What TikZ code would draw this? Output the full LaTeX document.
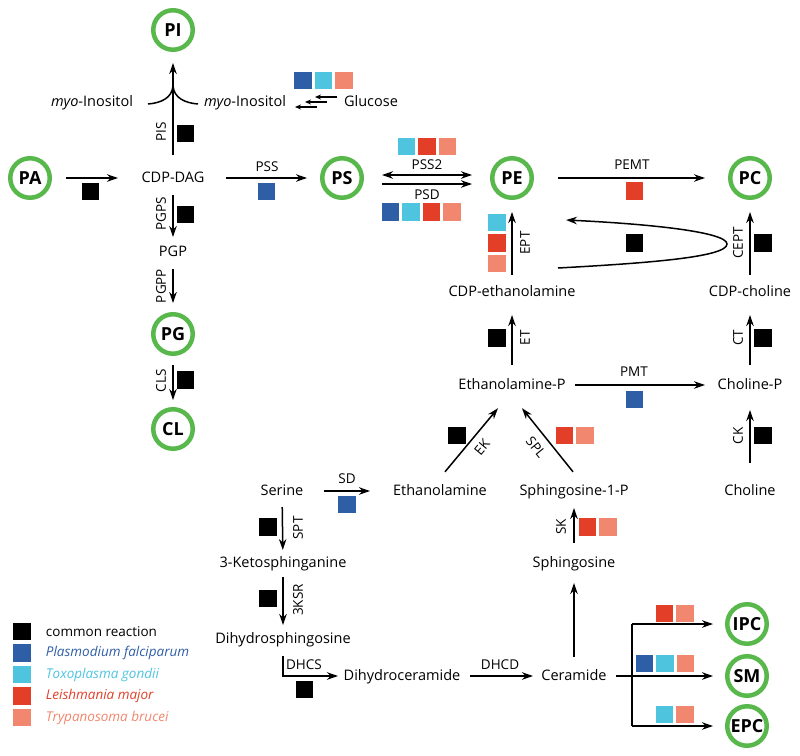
\documentclass[tikz,border=0pt]{standalone}
\usepackage{fontspec}
\setmainfont{Open Sans}
\usetikzlibrary{arrows.meta,positioning}

\definecolor{ring}{RGB}{88,184,76}
\definecolor{pfal}{RGB}{46,94,165}
\definecolor{tgon}{RGB}{78,196,222}
\definecolor{lmaj}{RGB}{226,62,40}
\definecolor{tbru}{RGB}{241,135,110}

\tikzset{
  lipid/.style={circle, draw=ring, line width=4.5pt, minimum size=39.5pt, inner sep=0pt,
    font=\bfseries\fontsize{18}{18}\selectfont},
  met/.style={inner sep=2pt, text height=11pt, text depth=3pt, font=\fontsize{14.5}{16}\selectfont},
  enz/.style={inner sep=1pt, font=\fontsize{13.5}{14}\selectfont},
  legtxt/.style={inner sep=0pt, font=\fontsize{13.5}{15}\selectfont},
  sq/.style={minimum size=17.5pt, inner sep=0pt, outer sep=0pt},
  arr/.style={line width=1.5pt, ->},
  lnk/.style={line width=1.5pt},
  gap/.style 2 args={shorten <=#1pt, shorten >=#2pt},
}

% a row of coloured squares: name, x of first, y, colours
\newcommand{\sqrow}[4]{\foreach \c [count=\i from 0] in {#4} {\node[sq,fill=\c] (#1\i) at (#2+\i*20.5,#3) {};}}

\begin{document}
\begin{tikzpicture}[x=1pt,y=-1pt,>={Stealth[length=11pt,width=7.5pt,inset=3.5pt]}]
\useasboundingbox (0,0) rectangle (800,755);

% lipids
\node[lipid] (PI) at (173,30) {PI};
\node[lipid] (PA) at (30,178) {PA};
\node[lipid] (PS) at (342,178) {PS};
\node[lipid] (PE) at (512,178) {PE};
\node[lipid] (PC) at (750,178) {PC};
\node[lipid] (PG) at (173,334) {PG};
\node[lipid] (CL) at (173,429) {CL};
\node[lipid] (IPC) at (747,624) {IPC};
\node[lipid] (SM) at (747,676) {SM};
\node[lipid] (EPC) at (747,726) {EPC};

% metabolites
\node[met] (myoL) at (92,102) {\textit{myo}-Inositol};
\node[met] (myoR) at (245,102) {\textit{myo}-Inositol};
\node[met] (Glc) at (371,102) {Glucose};
\node[met] (CDPDAG) at (173,178) {CDP-DAG};
\node[met] (PGP) at (173,252) {PGP};
\node[met] (CDPE) at (512,292) {CDP-ethanolamine};
\node[met] (CDPC) at (750,292) {CDP-choline};
\node[met] (EtnP) at (512,385) {Ethanolamine-P};
\node[met] (ChoP) at (750,385) {Choline-P};
\node[met] (Ser) at (282,491) {Serine};
\node[met] (Etn) at (440,491) {Ethanolamine};
\node[met] (S1P) at (574,491) {Sphingosine-1-P};
\node[met] (Cho) at (750,491) {Choline};
\node[met] (KSa) at (283,563) {3-Ketosphinganine};
\node[met] (Sph) at (574,563) {Sphingosine};
\node[met] (DHS) at (283,639) {Dihydrosphingosine};
\node[met] (DHCer) at (402,676) {Dihydroceramide};
\node[met] (Cer) at (574,676) {Ceramide};

% reactions
\coordinate (join) at (173,86);
\draw[lnk] ([xshift=56pt,yshift=-2pt]myoL.center) .. controls (161,103) and (172,98) .. (join);
\draw[lnk] ([xshift=-47pt,yshift=-2pt]myoR.center) .. controls (185,103) and (174,98) .. (join);
\draw[arr,gap={23}{33}] (CDPDAG.center) -- (PI.center);
\foreach \dx/\dy in {0/5,10/0,20/-5}
  \draw[line width=1.3pt,-{Stealth[length=6pt,width=5pt]}] ([xshift={(-34-\dx)*1pt},yshift=\dy pt]Glc.center) -- ++(-22,0);
\draw[arr,gap={36}{55}] (PA.center) -- (CDPDAG.center);
\draw[arr,gap={53}{35}] (CDPDAG.center) -- (PS.center);
\draw[lnk,<->,gap={40}{40}] ([yshift=3pt]PS.center) -- ([yshift=3pt]PE.center);
\draw[arr,gap={40}{40}] ([yshift=-6pt]PS.center) -- ([yshift=-6pt]PE.center);
\draw[arr,gap={46}{45}] (PE.center) -- (PC.center);
\draw[arr,gap={17}{15}] (CDPDAG.center) -- (PGP.center);
\draw[arr,gap={17}{31}] (PGP.center) -- (PG.center);
\draw[arr,gap={31}{29}] (PG.center) -- (CL.center);
\draw[arr,gap={17}{34}] (CDPE.center) -- (PE.center);
\draw[arr,gap={17}{34}] (CDPC.center) -- (PC.center);
\coordinate (hpS) at (558,268);
\coordinate (hpE) at (566,220);
\draw[arr] (hpS) .. controls (650,263) and (727,257) .. (727,244) .. controls (727,232) and (650,224) .. (hpE);
\draw[arr,gap={20}{23}] (EtnP.center) -- (CDPE.center);
\draw[arr,gap={20}{23}] (ChoP.center) -- (CDPC.center);
\draw[arr,gap={63}{45}] (EtnP.center) -- (ChoP.center);
\draw[arr,gap={28}{25}] (Cho.center) -- (ChoP.center);
\draw[arr] ([xshift=5pt,yshift=10pt]Etn.north) -- ([xshift=-14pt,yshift=-14pt]EtnP.south);
\draw[arr] ([xshift=-1pt,yshift=10pt]S1P.north) -- ([xshift=10pt,yshift=-14pt]EtnP.south);
\draw[arr,gap={20}{17}] (Sph.center) -- (S1P.center);
\draw[arr,gap={19}{20}] (Cer.center) -- (Sph.center);
\draw[arr,gap={42}{70}] (Ser.center) -- (Etn.center);
\draw[arr,gap={16}{13}] (Ser.center) -- (KSa.center);
\draw[arr,gap={14}{14}] (KSa.center) -- (DHS.center);
\draw[arr,shorten >=64pt] ([yshift=-8pt]DHS.south) |- (DHCer.center);
\draw[arr,gap={68}{41}] (DHCer.center) -- (Cer.center);
\draw[arr,gap={42}{34}] (Cer.center) -- (SM.center);
\draw[lnk] ([xshift=-115pt]IPC.center) -- ([xshift=-115pt]EPC.center);
\draw[arr,gap={0}{34}] ([xshift=-115pt]IPC.center) -- (IPC.center);
\draw[arr,gap={0}{34}] ([xshift=-115pt]EPC.center) -- (EPC.center);

% enzymes
\node[enz,rotate=90] (ePIS) at (161,132) {PIS};
\node[enz] (ePSS) at (267,167) {PSS};
\node[enz,rotate=90] (ePGPS) at (161,214) {PGPS};
\node[enz,rotate=90] (ePGPP) at (161,286) {PGPP};
\node[enz,rotate=90] (eCLS) at (161,381) {CLS};
\node[enz] (ePSS2) at (427,165) {PSS2};
\node[enz] (ePSD) at (427,195) {PSD};
\node[enz] (ePEMT) at (632,165) {PEMT};
\node[enz,rotate=90] (eEPT) at (525,243) {EPT};
\node[enz,rotate=90] (eCEPT) at (738,243) {CEPT};
\node[enz,rotate=90] (eET) at (525,338) {ET};
\node[enz,rotate=90] (eCT) at (738,338) {CT};
\node[enz] (ePMT) at (634,372) {PMT};
\node[enz,rotate=90] (eCK) at (738,436) {CK};
\node[enz,rotate=50] (eEK) at (482,447) {EK};
\node[enz,rotate=-51] (eSPL) at (536,447) {SPL};
\node[enz,rotate=90] (eSK) at (561,527) {SK};
\node[enz] (eSD) at (347,479) {SD};
\node[enz,rotate=90] (eSPT) at (298,528) {SPT};
\node[enz,rotate=90] (eKSR) at (298,600) {3KSR};
\node[enz] (eDHCS) at (304,665) {DHCS};
\node[enz] (eDHCD) at (500,665) {DHCD};

% organisms per step
\sqrow{sGlc}{303}{80.5}{pfal,tgon,tbru}
\sqrow{sPIS}{185.5}{133.5}{black}
\sqrow{sPA}{90.5}{191.5}{black}
\sqrow{sPSS}{266.5}{191.5}{pfal}
\sqrow{sPGPS}{185.5}{214.5}{black}
\sqrow{sCLS}{185.5}{380}{black}
\sqrow{sPSS2}{406.5}{146.5}{tgon,lmaj,tbru}
\sqrow{sPSD}{390.5}{212}{pfal,tgon,lmaj,tbru}
\sqrow{sPEMT}{634.5}{191}{lmaj}
\foreach \c [count=\i from 0] in {tgon,lmaj,tbru} {\node[sq,fill=\c] (sEPT\i) at (497,222.5+\i*20.5) {};}
\sqrow{sCEPTa}{634.5}{243}{black}
\sqrow{sCEPT}{763}{243}{black}
\sqrow{sET}{497}{338}{black}
\sqrow{sCT}{763}{338}{black}
\sqrow{sPMT}{634.5}{399.5}{pfal}
\sqrow{sCK}{763}{435.5}{black}
\sqrow{sEK}{457}{435.5}{black}
\sqrow{sSPL}{564.5}{435.5}{lmaj,tbru}
\sqrow{sSK}{587.5}{527}{lmaj,tbru}
\sqrow{sSD}{347}{504.5}{pfal}
\sqrow{sSPT}{268}{527}{black}
\sqrow{sKSR}{268}{598.5}{black}
\sqrow{sDHCS}{304.5}{689.5}{black}
\sqrow{sIPC}{664.5}{613.5}{lmaj,tbru}
\sqrow{sSM}{644.5}{663.5}{pfal,tgon,tbru}
\sqrow{sEPC}{664.5}{714.5}{tgon,tbru}

% legend
\foreach \c/\t [count=\i from 0] in {black/common reaction, pfal/\textit{Plasmodium falciparum},
    tgon/\textit{Toxoplasma gondii}, lmaj/\textit{Leishmania major}, tbru/\textit{Trypanosoma brucei}} {
  \node[sq,fill=\c] (lg\i) at (22,631.5+\i*21.5) {};
  \node[legtxt,text=\c,right=15pt of lg\i] (lgt\i) {\t};
}
\end{tikzpicture}
\end{document}
